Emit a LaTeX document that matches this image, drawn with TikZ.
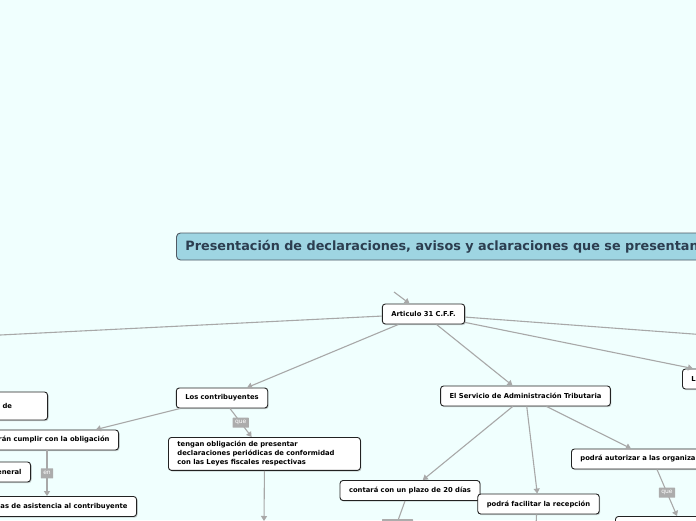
\documentclass[tikz,border=0pt]{standalone}
\usepackage{fontspec}
\setmainfont{DejaVu Sans}
\usetikzlibrary{arrows.meta,shadows}
\definecolor{bg}{RGB}{240,255,254}
\definecolor{boxline}{RGB}{34,34,34}
\definecolor{titlefill}{RGB}{158,213,226}
\definecolor{titleline}{RGB}{80,90,100}
\definecolor{titletext}{RGB}{44,62,80}
\definecolor{conngray}{RGB}{168,168,168}
\definecolor{lblgray}{RGB}{172,172,172}
\tikzset{
  nodebox/.style={draw=boxline, fill=white, rounded corners=3pt, line width=0.9pt,
    font=\fontsize{6.8}{9}\selectfont\bfseries, inner xsep=9pt, inner ysep=2pt,
    minimum height=20pt,
    drop shadow={shadow xshift=1pt, shadow yshift=-1.2pt, opacity=0.35}},
  titlebox/.style={draw=titleline, fill=titlefill, rounded corners=4pt, line width=0.9pt,
    font=\fontsize{12.8}{14}\selectfont\bfseries, text=titletext, inner xsep=9pt,
    minimum height=27pt},
  lbl/.style={fill=lblgray, text=white, font=\fontsize{6}{7}\selectfont,
    inner xsep=2.5pt, inner ysep=1.5pt, minimum height=10pt, rounded corners=0.5pt},
  conn/.style={draw=conngray, line width=1.1pt, -{Triangle[length=5pt,width=6pt]}}
}
\begin{document}
\begin{tikzpicture}[x=1pt,y=-1pt]
\useasboundingbox (0,0) rectangle (696,520);
\fill[bg] (0,0) rectangle (696,520);
\clip (0,0) rectangle (696,520);

% nodes
\node[titlebox, anchor=west] (title) at (176,246.5) {Presentación de declaraciones, avisos y aclaraciones que se presentan};
\node[nodebox] (art) at (423.5,314) {Articulo 31 C.F.F.};
\node[nodebox] (los) at (222,398) {Los contribuyentes};
\node[nodebox] (serv) at (525.5,396) {El Servicio de Administración Tributaria};
\node[nodebox] (con) at (410,490.5) {contará con un plazo de 20 días};
\node[nodebox] (fac) at (538.5,504) {podrá facilitar la recepción};
\node[nodebox, anchor=north west, text width=174pt, align=left, inner ysep=4pt] (teng) at (168,437)
  {tengan obligación de presentar\\declaraciones periódicas de conformidad\\con las Leyes fiscales respectivas};
\node[nodebox, anchor=west, text width=150pt, align=left] (aut) at (571,459) {podrá autorizar a las organiza};
\node[nodebox, anchor=west, text width=50pt, align=left] (L) at (682,379) {L};
\node[nodebox, anchor=north west, minimum width=100pt] (bot2) at (615,516) {};
\node[nodebox, anchor=east, text width=50pt, align=left, minimum height=28pt] (de) at (48,406) {\hspace*{14pt}de};
\node[nodebox, anchor=east] (ran) at (119,440) {rán cumplir con la obligación};
\node[nodebox, anchor=east] (gen) at (31,472) {eneral};
\node[nodebox, anchor=east] (asis) at (137,506.5) {as de asistencia al contribuyente};

% free ends
\coordinate (tin) at (394,292);
\coordinate (offl) at (-20,336);
\coordinate (offr) at (720,336);
\coordinate (tb) at (264,521);
\coordinate (enx) at (47,0);
\coordinate (conb) at (396,526);
\coordinate (facb) at (536,528);

% connectors
\draw[conn] (tin) -- (art);
\draw[conn] (art) -- (offl);
\draw[conn] (art) -- (offr);
\draw[conn] (art) -- ([xshift=11pt]L.north west);
\draw[conn] (art) -- (los);
\draw[conn] (art) -- (serv);
\draw[conn] (los) -- (ran);
\draw[conn] (los) -- node[lbl] {que} (teng);
\draw[conn] (teng.south) -- (tb);
\draw[conn] (ran.south -| enx) -- node[lbl] {en} (asis.north -| enx);
\draw[conn] (serv) -- (con);
\draw[conn] (serv) -- (fac);
\draw[conn] (serv) -- ([xshift=60pt]aut.north west);
\draw[conn] ([xshift=86pt]aut.south west) -- node[lbl] {que} ([xshift=62pt]bot2.north west);
\draw[conn] ([xshift=-5pt]con.south) -- (conb);
\node[lbl, minimum width=31pt] (conlbl) at (397.5,524) {};
\draw[conn] ([xshift=-2pt]fac.south) -- (facb);
\end{tikzpicture}
\end{document}
